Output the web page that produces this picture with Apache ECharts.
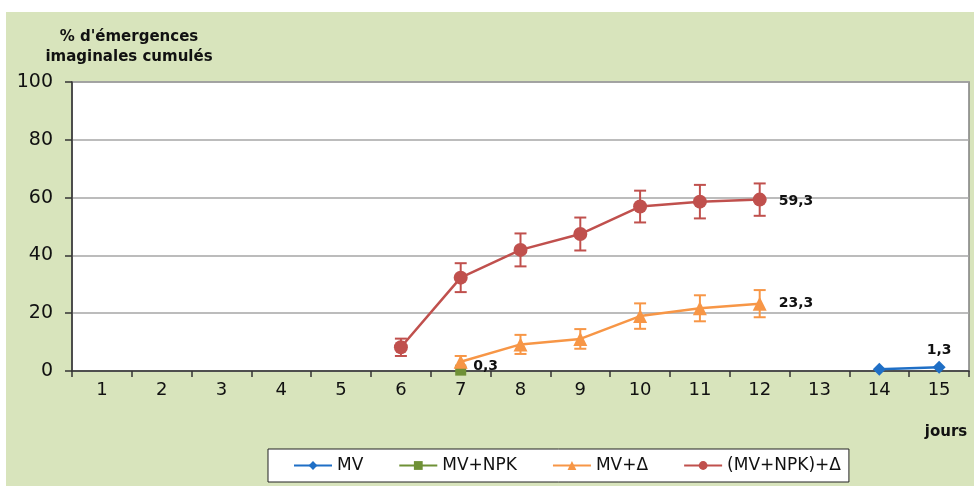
<!DOCTYPE html>
<html><head><meta charset="utf-8">
<script src="https://cdn.jsdelivr.net/npm/echarts@6/dist/echarts.min.js"></script>
<style>html,body{margin:0;padding:0;background:#fff}#c{width:974px;height:486px}</style>
</head><body><div id="c"></div>
<script>
var categories = ['1','2','3','4','5','6','7','8','9','10','11','12','13','14','15'];
var yTicks = [0,20,40,60,80,100];
var mvValues = [null,null,null,null,null,null,null,null,null,null,null,null,null,0.6,1.3];
var mvNpkValues = [null,null,null,null,null,null,0.3,null,null,null,null,null,null,null,null];
var mvDeltaValues = [null,null,null,null,null,null,3.2,9.2,11.1,19.0,21.7,23.3,null,null,null];
var mvDeltaErr = [null,null,null,null,null,null,2.0,3.3,3.4,4.4,4.5,4.7,null,null,null];
var mvNpkDeltaValues = [null,null,null,null,null,8.2,32.3,41.9,47.4,56.9,58.6,59.3,null,null,null];
var mvNpkDeltaErr = [null,null,null,null,null,3.0,5.0,5.7,5.7,5.5,5.8,5.6,null,null,null];
var seriesNames = ['MV','MV+NPK','MV+\u0394','(MV+NPK)+\u0394'];
var endLabels = {mv:'1,3', npk:'0,3', delta:'23,3', npkDelta:'59,3'};

var C_BLUE='#1f6fc6', C_GREEN='#6f9136', C_ORANGE='#f79646', C_RED='#c0504d';
var FONT='DejaVu Sans';

function withLabel(arr, idx, text, pos, offset){
  return arr.map(function(v,i){
    if(i!==idx) return v;
    return {value:v, label:{show:true, formatter:text, position:pos, offset:offset||[0,0],
      fontFamily:FONT, fontWeight:'bold', fontSize:14, color:'#111'}};
  });
}
function errData(vals, errs){
  var out=[];
  vals.forEach(function(v,i){ if(v!=null && errs[i]!=null) out.push([i, v-errs[i], v+errs[i]]); });
  return out;
}
function errSeries(vals, errs, color){
  return {type:'custom', silent:true, z:3, clip:false,
    data: errData(vals, errs),
    renderItem:function(params, api){
      var x=api.value(0);
      var lo=api.coord([x, api.value(1)]), hi=api.coord([x, api.value(2)]);
      var w=6, st={stroke:color, lineWidth:2};
      return {type:'group', children:[
        {type:'line', shape:{x1:lo[0],y1:lo[1],x2:hi[0],y2:hi[1]}, style:st},
        {type:'line', shape:{x1:lo[0]-w,y1:lo[1],x2:lo[0]+w,y2:lo[1]}, style:st},
        {type:'line', shape:{x1:hi[0]-w,y1:hi[1],x2:hi[0]+w,y2:hi[1]}, style:st}
      ]};
    }};
}

var chart = echarts.init(document.getElementById('c'), null, {renderer:'canvas'});
chart.setOption({
  backgroundColor:'#fff',
  animation:false,
  graphic:[
    {type:'rect', z:-10, shape:{x:6,y:12,width:968,height:474}, style:{fill:'#d8e4bc'}},
    {type:'text', x:129, y:27, z:10, style:{text:"% d'\u00e9mergences\nimaginales cumul\u00e9s",
      fontFamily:FONT, fontWeight:'bold', fontSize:15, fill:'#111', align:'center', lineHeight:20}},
    {type:'text', x:946, y:425, z:10, style:{text:'jours', fontFamily:FONT, fontWeight:'bold', fontSize:15, fill:'#111', align:'center'}}
  ],
  grid:{left:72, right:5, top:82, bottom:115, show:true, backgroundColor:'#fff', borderColor:'#7f7f7f', borderWidth:1.5},
  legend:{
    data:seriesNames, left:268, top:449, orient:'horizontal',
    backgroundColor:'#fff', borderColor:'#222', borderWidth:1,
    padding:[8,8,8,25], itemGap:35, itemWidth:38, itemHeight:11,
    textStyle:{fontFamily:FONT, fontSize:17, color:'#111'}
  },
  xAxis:{type:'category', data:categories, boundaryGap:true,
    axisLine:{lineStyle:{color:'#333', width:1.5}},
    axisTick:{show:true, interval:0, length:6, lineStyle:{color:'#333', width:1.5}},
    axisLabel:{interval:0, margin:10, fontFamily:FONT, fontSize:18, color:'#111'},
    splitLine:{show:false}},
  yAxis:{type:'value', min:yTicks[0], max:yTicks[yTicks.length-1], interval:20,
    axisLine:{show:true, lineStyle:{color:'#333', width:1.5}},
    axisTick:{show:true, length:7, lineStyle:{color:'#333', width:1.5}},
    axisLabel:{margin:19, fontFamily:FONT, fontSize:19, color:'#111'},
    splitLine:{lineStyle:{color:'#a6a6a6', width:1.5}}},
  series:[
    {name:seriesNames[0], type:'line', data:withLabel(mvValues,14,endLabels.mv,'top',[0,2]),
      symbol:'diamond', symbolSize:13, color:C_BLUE, lineStyle:{width:2.5, color:C_BLUE}, itemStyle:{color:C_BLUE},
      connectNulls:false, clip:false, z:5},
    {name:seriesNames[1], type:'line', data:withLabel(mvNpkValues,6,endLabels.npk,'right',[2,-4]),
      symbol:'rect', symbolSize:11, color:C_GREEN, lineStyle:{width:2.5, color:C_GREEN}, itemStyle:{color:C_GREEN},
      clip:false, z:4},
    {name:seriesNames[2], type:'line', data:withLabel(mvDeltaValues,11,endLabels.delta,'right',[7,0]),
      symbol:'triangle', symbolSize:14, color:C_ORANGE, lineStyle:{width:2.5, color:C_ORANGE}, itemStyle:{color:C_ORANGE},
      clip:false, z:5},
    {name:seriesNames[3], type:'line', data:withLabel(mvNpkDeltaValues,11,endLabels.npkDelta,'right',[7,2]),
      symbol:'circle', symbolSize:14, color:C_RED, lineStyle:{width:2.5, color:C_RED}, itemStyle:{color:C_RED},
      clip:false, z:5},
    errSeries(mvDeltaValues, mvDeltaErr, C_ORANGE),
    errSeries(mvNpkDeltaValues, mvNpkDeltaErr, C_RED)
  ]
});
</script></body></html>
